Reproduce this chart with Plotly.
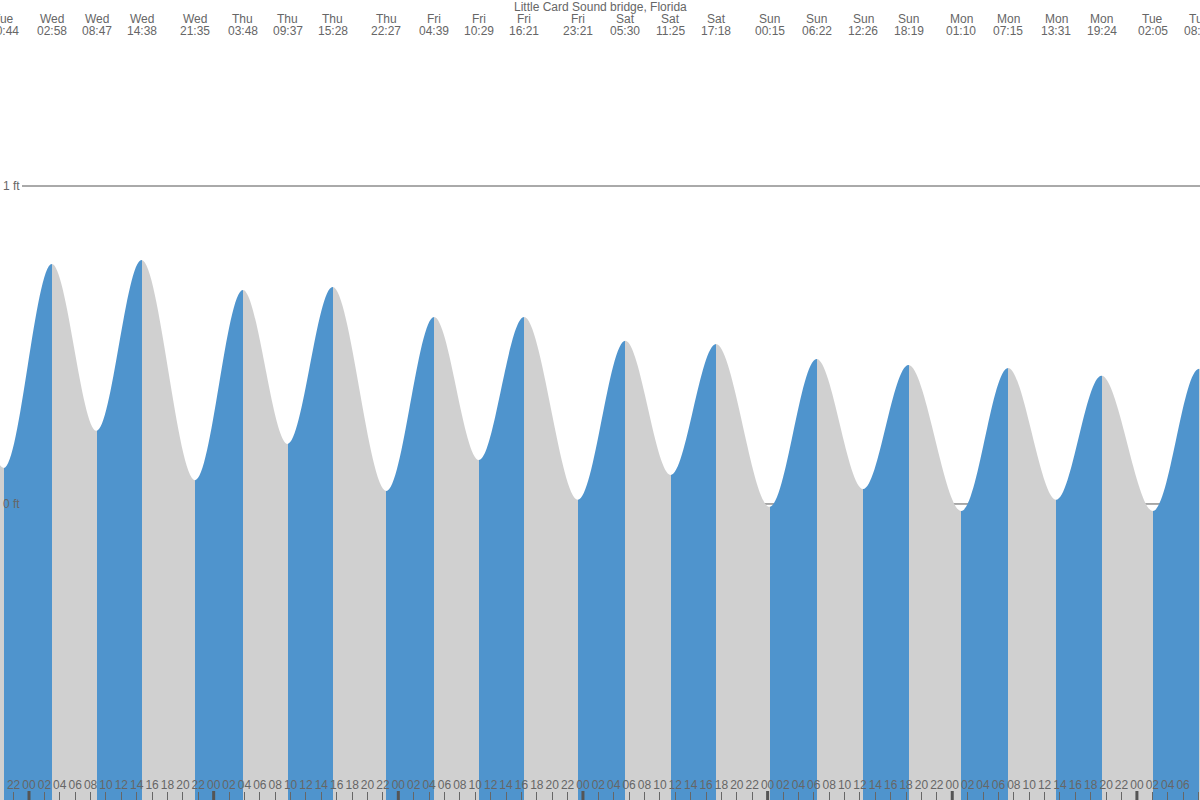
import plotly.graph_objects as go

# ---------------- data ----------------
title_text = "Little Card Sound bridge, Florida"
day_names = ["Tue", "Wed", "Thu", "Fri", "Sat", "Sun", "Mon", "Tue"]  # index = day offset + 1 (offset 0 = Wed)

# tide extremes: day offset (relative to Wed), clock time, height in ft
ext_day = [-1, -1, 0, 0, 0, 0, 1, 1, 1, 1, 2, 2, 2, 2, 3, 3, 3, 4, 4, 4, 4, 5, 5, 5, 5, 6, 6, 6]
ext_time = ["14:34", "20:44", "02:58", "08:47", "14:38", "21:35", "03:48", "09:37", "15:28", "22:27",
            "04:39", "10:29", "16:21", "23:21", "05:30", "11:25", "17:18", "00:15", "06:22", "12:26",
            "18:19", "01:10", "07:15", "13:31", "19:24", "02:05", "08:05", "14:20"]
ext_height = [0.76, 0.113, 0.755, 0.23, 0.767, 0.075, 0.673, 0.189, 0.682, 0.041,
              0.588, 0.138, 0.588, 0.013, 0.513, 0.091, 0.503, -0.009, 0.456, 0.047,
              0.437, -0.022, 0.428, 0.013, 0.403, -0.022, 0.425, 0.03]

x_range = [-3.77, 152.2]     # hours since Wed 00:00
y_range = [-0.931, 1.585]    # ft
level_lines = [1, 0]
level_labels = ["1 ft", "0 ft"]
day_starts = [0, 24, 48, 72, 96, 120, 144]
hour_ticks = list(range(-2, 153, 2))

BLUE = "#4f94cd"
GREY = "#d0d0d0"
TXT = "#666666"
FONT = "Liberation Sans, Arial, sans-serif"

# ---------------- derived ----------------
ext_x = [d * 24 + int(t[:2]) + int(t[3:]) / 60 for d, t in zip(ext_day, ext_time)]
x_lo, x_hi = ext_x[0], ext_x[-1]

cs = []
for i in range(len(ext_x) - 1):
    col = BLUE if ext_height[i + 1] > ext_height[i] else GREY
    p0 = (ext_x[i] - x_lo) / (x_hi - x_lo)
    p1 = (ext_x[i + 1] - x_lo) / (x_hi - x_lo)
    cs.append([max(0.0, min(1.0, p0)), col])
    cs.append([max(0.0, min(1.0, p1)), col])
cs[0][0] = 0.0
cs[-1][0] = 1.0

fig = go.Figure()
# baseline for the filled area (bottom of the plot)
fig.add_trace(go.Scatter(x=[x_lo, x_hi], y=[y_range[0], y_range[0]], mode="lines",
                         line=dict(width=0), hoverinfo="skip", showlegend=False))
fig.add_trace(go.Scatter(
    x=ext_x, y=ext_height, mode="lines", line=dict(width=0, shape="spline", smoothing=1),
    fill="tonexty",
    fillgradient=dict(type="horizontal", colorscale=cs, start=x_lo, stop=x_hi),
    hoverinfo="skip", showlegend=False))

shapes = []
for lv in level_lines:
    shapes.append(dict(type="line", xref="paper", x0=22 / 1200, x1=1, yref="y", y0=lv, y1=lv,
                       line=dict(color="#555555", width=1), layer="below"))
for d in day_starts:
    shapes.append(dict(type="line", xref="x", x0=d, x1=d, yref="paper", y0=0, y1=9 / 800,
                       line=dict(color="#555555", width=3), layer="above"))

annotations = []
for lv, lab in zip(level_lines, level_labels):
    annotations.append(dict(x=0, xref="paper", xanchor="left", y=lv, yref="y", yanchor="middle",
                            text=lab, showarrow=False, font=dict(size=12, color=TXT, family=FONT),
                            xshift=1))
for d, t, x in zip(ext_day, ext_time, ext_x):
    if x_range[0] - 3 <= x <= x_range[1] + 3:
        annotations.append(dict(x=x, xref="x", y=1 - 19 / 800, yref="paper", yanchor="middle",
                                xanchor="center", text=day_names[d + 1], showarrow=False,
                                font=dict(size=12, color=TXT, family=FONT)))
        annotations.append(dict(x=x, xref="x", y=1 - 31 / 800, yref="paper", yanchor="middle",
                                xanchor="center", text=t, showarrow=False,
                                font=dict(size=12, color=TXT, family=FONT)))
annotations.append(dict(x=0.5, xref="paper", y=1 - 7 / 800, yref="paper", yanchor="middle",
                        text=title_text, showarrow=False, font=dict(size=12, color=TXT, family=FONT)))

fig.update_layout(
    width=1200, height=800, margin=dict(l=0, r=0, t=0, b=0),
    paper_bgcolor="white", plot_bgcolor="white",
    shapes=shapes, annotations=annotations,
    xaxis=dict(range=x_range, showgrid=False, zeroline=False, showline=False,
               tickvals=hour_ticks, ticktext=[f"{h % 24:02d}" for h in hour_ticks],
               ticks="inside", ticklen=8, tickwidth=1, tickcolor="#666666",
               ticklabelposition="inside", tickangle=0,
               tickfont=dict(size=12, color=TXT, family=FONT)),
    yaxis=dict(range=y_range, showgrid=False, zeroline=False, showline=False,
               showticklabels=False, ticks=""),
)

fig.write_html("out.html", config={"displayModeBar": False},
               post_script="document.body.style.margin='0';document.body.style.overflow='hidden';")
